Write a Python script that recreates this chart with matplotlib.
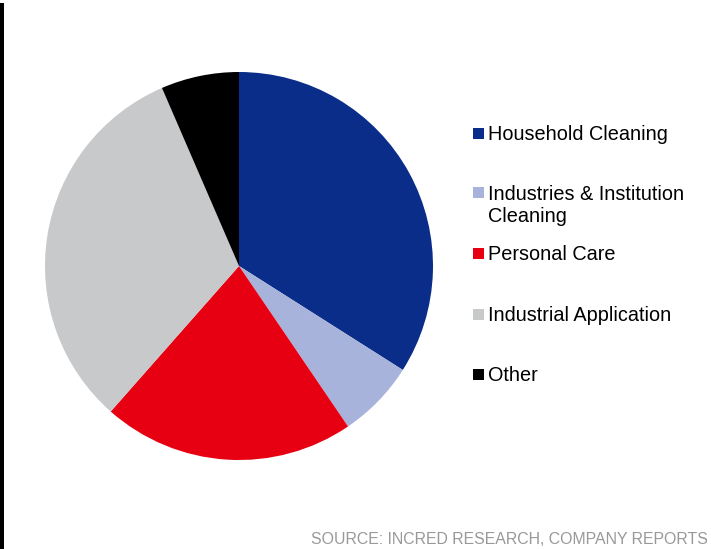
import matplotlib.pyplot as plt
from matplotlib.patches import Rectangle

plt.rcParams['font.family'] = ['Liberation Sans', 'DejaVu Sans']

# segment shares (%), clockwise from 12 o'clock
segments = ['Household Cleaning', 'Industries & Institution\nCleaning',
            'Personal Care', 'Industrial Application', 'Other']
shares = [34, 6.5, 21, 32, 6.5]
colors = ['#0A2D8A', '#A7B3DA', '#E60012', '#C8C9CB', '#000000']
source = 'SOURCE: INCRED RESEARCH, COMPANY REPORTS'

W, H = 711, 549
fig = plt.figure(figsize=(W / 100, H / 100), dpi=100)

# pie centred at (239, 266) px, radius ~194 px
cx, cy, r = 239, 266, 194
ax = fig.add_axes([(cx - r) / W, 1 - (cy + r) / H, 2 * r / W, 2 * r / H])
ax.pie(shares, colors=colors, startangle=90, counterclock=False,
       wedgeprops=dict(linewidth=0))
ax.set_aspect('equal')
ax.set_xlim(-1, 1)
ax.set_ylim(-1, 1)


def fx(px):
    return px / W


def fy(py):
    return 1 - py / H


# legend: square marker + label, 60 px between entries
legend_y = [133, 193, 253, 314, 374]
sq = 11
for name, col, y in zip(segments, colors, legend_y):
    fig.patches.append(Rectangle((fx(473), fy(y + sq / 2)), sq / W, sq / H,
                                 transform=fig.transFigure, facecolor=col,
                                 edgecolor='none'))
    for i, line in enumerate(name.split('\n')):
        fig.text(fx(488), fy(y + 1.5 + 22 * i), line, fontsize=14.3,
                 color='#000000', va='center', ha='left')

# source note, bottom right
fig.text(fx(708), fy(540), source, fontsize=11.4, color='#999999',
         ha='right', va='center')

# thin dark rule along the left edge
fig.patches.append(Rectangle((0, 0), 4 / W, fy(3), transform=fig.transFigure,
                             facecolor='#000000', edgecolor='none'))

fig.savefig('out.png', dpi=100)
